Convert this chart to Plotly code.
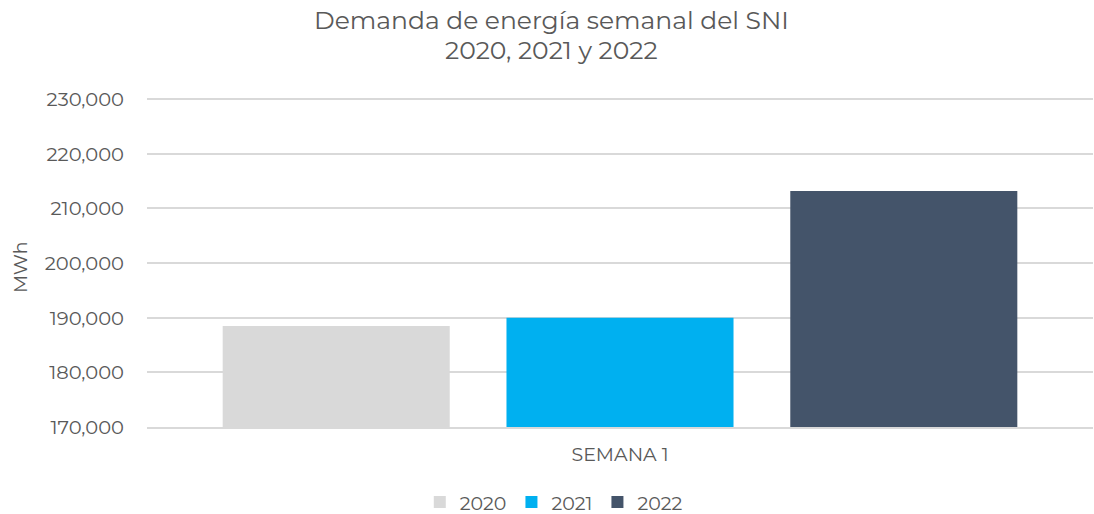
import plotly.graph_objects as go

categories = ["SEMANA 1"]
years = ["2020", "2021", "2022"]
values_2020 = [188500]
values_2021 = [190000]
values_2022 = [213200]
colors = ["#d9d9d9", "#00b0f0", "#44546a"]
tick_vals = [170000, 180000, 190000, 200000, 210000, 220000, 230000]
title_lines = ["Demanda de energía semanal del SNI", "2020, 2021 y 2022"]
y_title = "MWh"

fig = go.Figure()
for name, vals, col in zip(years, [values_2020, values_2021, values_2022], colors):
    fig.add_trace(go.Bar(x=categories, y=vals, name=name, marker=dict(color=col, line=dict(width=0))))

font_fam = "Montserrat, 'Open Sans', sans-serif"
txt_col = "#595959"
fig.update_layout(
    width=1094, height=514,
    paper_bgcolor="white", plot_bgcolor="white",
    margin=dict(l=147, r=1, t=97, b=87, autoexpand=False),
    barmode="group", bargap=0.1, bargroupgap=0.2,
    font=dict(family=font_fam, color=txt_col),
    legend=dict(orientation="h", x=0.43, xanchor="center", y=-0.228, yanchor="middle",
                font=dict(size=19, color=txt_col), traceorder="normal",
                itemwidth=30),
    showlegend=True,
)
fig.add_annotation(text=title_lines[0], xref="paper", yref="paper", x=0.428, y=1.0,
                   yshift=77, showarrow=False, xanchor="center", yanchor="middle",
                   font=dict(family=font_fam, size=25, color=txt_col))
fig.add_annotation(text=title_lines[1], xref="paper", yref="paper", x=0.428, y=1.0,
                   yshift=47, showarrow=False, xanchor="center", yanchor="middle",
                   font=dict(family=font_fam, size=25, color=txt_col))
fig.add_annotation(text=y_title, xref="paper", yref="paper", x=0.0, y=0.5,
                   xshift=-127, yshift=-6, showarrow=False, textangle=-90,
                   xanchor="center", yanchor="middle",
                   font=dict(family=font_fam, size=19, color=txt_col))
fig.update_yaxes(range=[170000, 230400], tickvals=tick_vals, tickformat=",",
                 showgrid=True, gridcolor="#d9d9d9", gridwidth=1.5, zeroline=False,
                 tickfont=dict(size=19.5, color=txt_col), ticks="", ticklabelstandoff=22)
fig.update_xaxes(showline=True, linecolor="#d9d9d9", linewidth=1.5,
                 tickfont=dict(size=19, color=txt_col), ticks="", ticklabelstandoff=9)
fig.write_html("out.html", config={"displayModeBar": False},
               post_script="document.body.style.margin='0';")
